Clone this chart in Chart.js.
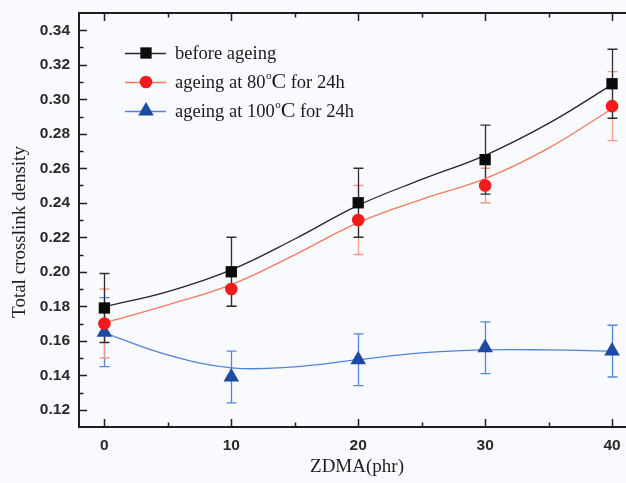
<!DOCTYPE html>
<html>
<head>
<meta charset="utf-8">
<script src="https://cdn.jsdelivr.net/npm/chart.js@4.4.0/dist/chart.umd.min.js"></script>
<style>
html,body{margin:0;padding:0;background:#f8fafd;}
#wrap{width:626px;height:483px;}
</style>
</head>
<body>
<div id="wrap"><canvas id="c" width="626" height="483"></canvas></div>
<script>
// ---- data ----
const xCategories = [0, 10, 20, 30, 40];
const beforeAgeing = [0.179, 0.200, 0.240, 0.265, 0.309];
const beforeErr    = [0.020, 0.020, 0.020, 0.020, 0.020];
const ageing80     = [0.170, 0.190, 0.230, 0.250, 0.296];
const ageing80Err  = [0.020, 0.010, 0.020, 0.010, 0.020];
const ageing100    = [0.165, 0.139, 0.149, 0.156, 0.154];
const ageing100Err = [0.020, 0.015, 0.015, 0.015, 0.015];
// smooth fit curves as drawn in the picture
const fitX       = [0, 5, 10, 15, 20, 25, 30, 35, 40];
const beforeFit  = [0.1797, 0.1885, 0.2011, 0.2190, 0.2385, 0.2535, 0.2675, 0.2860, 0.3085];
const a80Fit     = [0.1704, 0.1808, 0.1925, 0.2098, 0.2285, 0.2420, 0.2540, 0.2717, 0.2945];
const a100Fit    = [0.1646, 0.1518, 0.1443, 0.1449, 0.1490, 0.1530, 0.1547, 0.1547, 0.1540];
const xTicks = [0, 10, 20, 30, 40];
const yTicks = [0.12, 0.14, 0.16, 0.18, 0.20, 0.22, 0.24, 0.26, 0.28, 0.30, 0.32, 0.34];
const seriesNames = ['before ageing', 'ageing at 80°C for 24h', 'ageing at 100°C for 24h'];
const xTitle = 'ZDMA(phr)';
const yTitle = 'Total crosslink density';

const pts = (xs, ys) => xs.map((x, i) => ({x: x, y: ys[i]}));

const styles = [
  {line: '#262626', marker: '#0b0b0b', err: '#2e2e2e', shape: 'rect', r: 8},
  {line: '#f37a5c', marker: '#f01c1c', err: '#f39a8a', shape: 'circle', r: 6.3},
  {line: '#5383d8', marker: '#1e4aa6', err: '#5686d6', shape: 'triangle', r: 9}
];
const means = [beforeAgeing, ageing80, ageing100];
const errs = [beforeErr, ageing80Err, ageing100Err];
const fits = [beforeFit, a80Fit, a100Fit];

const datasets = [];
for (let s = 0; s < 3; s++) {
  datasets.push({
    label: seriesNames[s],
    data: pts(xCategories, means[s]),
    showLine: false,
    pointStyle: styles[s].shape,
    pointRadius: styles[s].r,
    pointHoverRadius: styles[s].r,
    backgroundColor: styles[s].marker,
    borderColor: styles[s].marker,
    borderWidth: 0,
    clip: false,
    order: 0
  });
}
for (let s = 0; s < 3; s++) {
  datasets.push({
    label: seriesNames[s] + ' fit',
    data: pts(fitX, fits[s]),
    showLine: true,
    pointRadius: 0,
    borderColor: styles[s].line,
    borderWidth: 1.3,
    tension: 0.4,
    fill: false,
    order: 2
  });
}

const AX = '#1e1e1e';

const bgPlugin = {
  id: 'bg',
  beforeDraw(chart) {
    const ctx = chart.ctx;
    ctx.save();
    ctx.fillStyle = '#f8fafd';
    ctx.fillRect(0, 0, chart.width, chart.height);
    ctx.restore();
  }
};

const errPlugin = {
  id: 'errbars',
  beforeDatasetsDraw(chart) {
    const ctx = chart.ctx, xs = chart.scales.x, ys = chart.scales.y;
    ctx.save();
    for (let s = 2; s >= 0; s--) {
      ctx.strokeStyle = styles[s].err;
      ctx.lineWidth = 1.3;
      for (let i = 0; i < xCategories.length; i++) {
        const px = Math.round(xs.getPixelForValue(xCategories[i])) + 0.5;
        const top = ys.getPixelForValue(means[s][i] + errs[s][i]);
        const bot = ys.getPixelForValue(means[s][i] - errs[s][i]);
        ctx.beginPath();
        ctx.moveTo(px, top); ctx.lineTo(px, bot);
        ctx.moveTo(px - 5, top); ctx.lineTo(px + 5, top);
        ctx.moveTo(px - 5, bot); ctx.lineTo(px + 5, bot);
        ctx.stroke();
      }
    }
    ctx.restore();
  }
};

function drawMarker(ctx, shape, x, y, r, color) {
  ctx.fillStyle = color;
  ctx.beginPath();
  if (shape === 'rect') {
    const h = r * Math.SQRT1_2;
    ctx.rect(x - h, y - h, 2 * h, 2 * h);
  } else if (shape === 'circle') {
    ctx.arc(x, y, r, 0, Math.PI * 2);
  } else {
    ctx.moveTo(x, y - r);
    ctx.lineTo(x + r * Math.sin(Math.PI / 3), y + r / 2);
    ctx.lineTo(x - r * Math.sin(Math.PI / 3), y + r / 2);
    ctx.closePath();
  }
  ctx.fill();
}

const framePlugin = {
  id: 'frame',
  afterDraw(chart) {
    const ctx = chart.ctx, a = chart.chartArea, xs = chart.scales.x, ys = chart.scales.y;
    ctx.save();
    ctx.strokeStyle = AX;
    ctx.lineWidth = 2;
    ctx.beginPath();
    ctx.moveTo(a.left, a.top); ctx.lineTo(a.right, a.top);
    ctx.moveTo(a.left, a.top - 1); ctx.lineTo(a.left, a.bottom + 1);
    ctx.moveTo(a.left - 1, a.bottom); ctx.lineTo(a.right, a.bottom);
    ctx.stroke();
    ctx.lineWidth = 1.5;
    ctx.beginPath();
    for (let v = 0; v <= 40; v += 5) {
      const px = Math.round(xs.getPixelForValue(v)) + 0.5;
      const len = (v % 10 === 0) ? 8 : 4.5;
      ctx.moveTo(px, a.bottom); ctx.lineTo(px, a.bottom - len);
      ctx.moveTo(px, a.top); ctx.lineTo(px, a.top + len);
    }
    for (let k = 12; k <= 34; k++) {
      const py = Math.round(ys.getPixelForValue(k / 100)) + 0.5;
      const len = (k % 2 === 0) ? 8 : 4.5;
      ctx.moveTo(a.left, py); ctx.lineTo(a.left + len, py);
    }
    ctx.stroke();

    // axis titles
    ctx.fillStyle = '#1e1e1e';
    ctx.font = '19px "Liberation Serif", "Times New Roman", serif';
    ctx.textAlign = 'center';
    ctx.textBaseline = 'middle';
    ctx.fillText(xTitle, 357, 467);
    ctx.save();
    ctx.translate(20, 232);
    ctx.rotate(-Math.PI / 2);
    ctx.fillText(yTitle, 0, 0);
    ctx.restore();

    // legend
    const rows = [53, 82, 111];
    ctx.textAlign = 'left';
    ctx.textBaseline = 'alphabetic';
    for (let s = 0; s < 3; s++) {
      const y = rows[s];
      ctx.strokeStyle = styles[s].line;
      ctx.lineWidth = 1.3;
      ctx.beginPath();
      ctx.moveTo(125, y + 0.5); ctx.lineTo(166, y + 0.5);
      ctx.stroke();
      drawMarker(ctx, styles[s].shape, 146, y, styles[s].r, styles[s].marker);
      ctx.fillStyle = '#1a1a1a';
      const base = y + 6;
      let x = 175;
      const name = seriesNames[s];
      const deg = name.indexOf('°C');
      ctx.font = '18.5px "Liberation Serif", "Times New Roman", serif';
      if (deg < 0) {
        ctx.fillText(name, x, base);
      } else {
        const p1 = name.slice(0, deg), p2 = name.slice(deg + 2);
        ctx.fillText(p1, x, base); x += ctx.measureText(p1).width;
        ctx.font = '11px "Liberation Serif", "Times New Roman", serif';
        ctx.fillText('o', x + 0.5, base - 9); x += ctx.measureText('o').width + 0.5;
        ctx.font = '22px "Liberation Serif", "Times New Roman", serif';
        ctx.fillText('C', x, base); x += ctx.measureText('C').width;
        ctx.font = '18.5px "Liberation Serif", "Times New Roman", serif';
        ctx.fillText(p2, x, base);
      }
    }
    ctx.restore();
  }
};

new Chart(document.getElementById('c'), {
  type: 'scatter',
  data: {datasets: datasets},
  options: {
    responsive: false,
    animation: false,
    events: [],
    layout: {autoPadding: false, padding: {top: 13, right: 0, left: 0, bottom: 0}},
    plugins: {legend: {display: false}, tooltip: {enabled: false}},
    scales: {
      x: {
        type: 'linear', min: -2, max: 41.1,
        afterFit(s) { s.height = 56; s.paddingLeft = 0; s.paddingRight = 0; },
        afterBuildTicks(s) { s.ticks = xTicks.map(v => ({value: v})); },
        grid: {display: false, drawTicks: false},
        border: {display: false},
        ticks: {
          padding: 9,
          color: '#2a2a2a',
          font: {family: '"Liberation Sans", Arial, sans-serif', size: 15.5, weight: 'bold'},
          callback: v => String(v)
        }
      },
      y: {
        type: 'linear', min: 0.11, max: 0.35,
        afterFit(s) { s.width = 79; s.paddingTop = 0; s.paddingBottom = 0; },
        afterBuildTicks(s) { s.ticks = yTicks.map(v => ({value: v})); },
        grid: {display: false, drawTicks: false},
        border: {display: false},
        ticks: {
          padding: 9,
          color: '#2a2a2a',
          font: {family: '"Liberation Sans", Arial, sans-serif', size: 15.5, weight: 'bold'},
          callback: v => Number(v).toFixed(2)
        }
      }
    }
  },
  plugins: [bgPlugin, errPlugin, framePlugin]
});
</script>
</body>
</html>
